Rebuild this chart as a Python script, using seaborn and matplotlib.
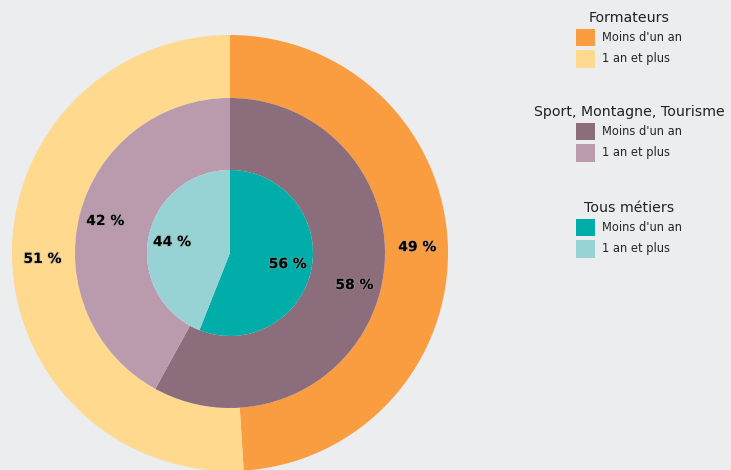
import matplotlib
matplotlib.use('Agg')
import matplotlib.pyplot as plt
import matplotlib.patheffects as pe
from matplotlib.patches import Patch
import seaborn as sns

# Data
labels = ["Moins d'un an", "1 an et plus"]
formateurs = [49, 51]
sport = [58, 42]
tous = [56, 44]
groups = ["Formateurs", "Sport, Montagne, Tourisme", "Tous métiers"]
colors_form = ['#FA9D40', '#FED98E']
colors_sport = ['#8C6D7B', '#BA9AAD']
colors_tous = ['#00ADA8', '#97D3D4']

bg = '#ECEDEF'
sns.set_style('white', {'axes.facecolor': bg, 'figure.facecolor': bg})
plt.rcParams['font.family'] = ['DejaVu Sans']

fig = plt.figure(figsize=(7.31, 4.70), dpi=100)
fig.patch.set_facecolor(bg)
ax = fig.add_axes([12 / 731, -1 / 470, 436 / 731, 436 / 470])
ax.set_facecolor(bg)

r_mid = 155 / 218
r_in = 83 / 218
txt = dict(fontsize=10, fontweight='bold', color='black',
           path_effects=[pe.withStroke(linewidth=1.5, foreground='#a0a0a0', alpha=0.35)])

def fmt(p):
    return f'{p:.0f} %'

ax.pie(formateurs, radius=1, colors=colors_form, startangle=90, counterclock=False,
       wedgeprops=dict(width=1 - r_mid, linewidth=0),
       autopct=fmt, pctdistance=0.86, textprops=txt)
ax.pie(sport, radius=r_mid, colors=colors_sport, startangle=90, counterclock=False,
       wedgeprops=dict(width=r_mid - r_in, linewidth=0),
       autopct=fmt, pctdistance=0.59 / r_mid, textprops=txt)
ax.pie(tous, radius=r_in, colors=colors_tous, startangle=90, counterclock=False,
       wedgeprops=dict(linewidth=0),
       autopct=fmt, pctdistance=0.27 / r_in, textprops=txt)
ax.set_xlim(-1, 1)
ax.set_ylim(-1, 1)
ax.set_aspect('equal')
ax.axis('off')

# Legends
for grp, cols, ytop in zip(groups, [colors_form, colors_sport, colors_tous],
                           [1 - 3 / 470, 1 - 97 / 470, 1 - 193 / 470]):
    handles = [Patch(facecolor=c, edgecolor='none') for c in cols]
    leg = fig.legend(handles, labels, title=grp, loc='upper center',
                     bbox_to_anchor=(629 / 731, ytop), frameon=False,
                     fontsize=8.3, title_fontsize=10.2,
                     handlelength=1.65, handleheight=2.0, labelspacing=0.3,
                     handletextpad=0.65, borderpad=0.2)
    leg.get_title().set_color('#222222')

fig.savefig('out.png', dpi=100, facecolor=bg)
